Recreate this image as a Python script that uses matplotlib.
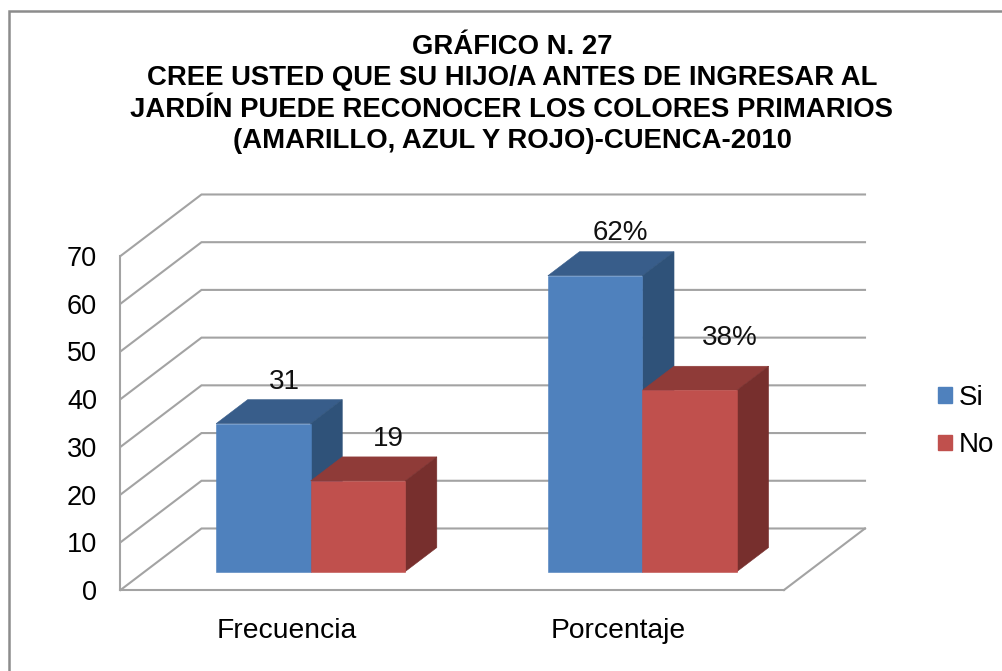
#!/usr/bin/env python3
"""Recreate the 3D-look clustered bar chart (Grafico N. 27)."""

from __future__ import annotations

import matplotlib
matplotlib.use("Agg")
import matplotlib.pyplot as plt
from matplotlib.patches import Patch, Rectangle

CATEGORIES = ["Frecuencia", "Porcentaje"]
SI_VALUES = [31, 62]
NO_VALUES = [19, 38]
SI_LABELS = ["31", "62%"]
NO_LABELS = ["19", "38%"]
Y_TICKS = [0, 10, 20, 30, 40, 50, 60, 70]
TITLE = (
    "GRÁFICO N. 27\n"
    "CREE USTED QUE SU HIJO/A ANTES DE INGRESAR AL\n"
    "JARDÍN PUEDE RECONOCER LOS COLORES PRIMARIOS\n"
    "(AMARILLO, AZUL Y ROJO)-CUENCA-2010"
)

WIDTH, HEIGHT = 1003, 671
GRID = "#a3a3a3"
SI_COLORS = ("#4f81bd", "#385d8a", "#2f5279")  # front, top, side
NO_COLORS = ("#c0504d", "#8f3b38", "#772f2d")

# oblique projection: how far the back wall sits from the front plane
DEPTH_X = 81 / 331.75
DEPTH_V = 61.5 / 4.77
BAR_WIDTH = 0.285
BAR_D0 = 0.30
BAR_D1 = 0.69


def project(x: float, v: float, d: float) -> tuple[float, float]:
    return x + d * DEPTH_X, v + d * DEPTH_V


def draw_bar(ax, x0: float, x1: float, value: float, colors: tuple) -> None:
    front, top, side = colors
    faces = [
        (top, [(x0, value, BAR_D0), (x1, value, BAR_D0), (x1, value, BAR_D1), (x0, value, BAR_D1)]),
        (side, [(x1, 0, BAR_D0), (x1, value, BAR_D0), (x1, value, BAR_D1), (x1, 0, BAR_D1)]),
        (front, [(x0, 0, BAR_D0), (x1, 0, BAR_D0), (x1, value, BAR_D0), (x0, value, BAR_D0)]),
    ]
    for color, corners in faces:
        pts = [project(*c) for c in corners]
        ax.fill([p[0] for p in pts], [p[1] for p in pts], color=color, lw=0.4,
                clip_on=False, zorder=3)


def main() -> int:
    plt.rcParams["font.family"] = ["Liberation Sans", "DejaVu Sans"]
    fig = plt.figure(figsize=(WIDTH / 100, HEIGHT / 100), dpi=100, facecolor="white")
    ax = fig.add_axes([120.5 / WIDTH, (HEIGHT - 590) / HEIGHT, 663.5 / WIDTH, 334 / HEIGHT])
    ax.set_xlim(0, 2)
    ax.set_ylim(0, 70)
    ax.patch.set_visible(False)

    # chart frame: only the left and top edges fall inside the crop
    fig.add_artist(Rectangle((9.5 / WIDTH, -0.02), 1.1, (HEIGHT - 10.5) / HEIGHT + 0.02,
                             transform=fig.transFigure, fill=False, ec="#8c8c8c", lw=1.8))

    # walls and floor
    right = len(CATEGORIES)
    for tick in Y_TICKS:
        pts = [project(0, tick, 0), project(0, tick, 1), project(right, tick, 1)]
        ax.plot([p[0] for p in pts], [p[1] for p in pts], color=GRID, lw=1.5,
                clip_on=False, zorder=1, solid_joinstyle="miter")
    pts = [project(right, 0, 0), project(right, 0, 1)]
    ax.plot([p[0] for p in pts], [p[1] for p in pts], color=GRID, lw=1.5, clip_on=False, zorder=1)

    for side in ["top", "right"]:
        ax.spines[side].set_visible(False)
    for side in ["left", "bottom"]:
        ax.spines[side].set_color(GRID)
        ax.spines[side].set_linewidth(1.5)

    centers = [i + 0.5 for i in range(len(CATEGORIES))]
    ax.set_xticks(centers, CATEGORIES, fontsize=20.3)
    ax.set_yticks(Y_TICKS, [str(t) for t in Y_TICKS], fontsize=19.5)
    ax.tick_params(axis="x", length=0, pad=20)
    ax.tick_params(axis="y", length=0, pad=17)

    for center, si, no in zip(centers, SI_VALUES, NO_VALUES):
        draw_bar(ax, center - BAR_WIDTH, center, si, SI_COLORS)
        draw_bar(ax, center, center + BAR_WIDTH, no, NO_COLORS)

    # data labels float behind the bars, offsets
    si_offsets = [(21, 42), (25, 43)]
    no_offsets = [(30, 42), (40, 52)]
    for center, si, no, si_txt, no_txt, si_off, no_off in zip(
        centers, SI_VALUES, NO_VALUES, SI_LABELS, NO_LABELS, si_offsets, no_offsets
    ):
        for x, v, txt, off in [
            (center - BAR_WIDTH / 2, si, si_txt, si_off),
            (center + BAR_WIDTH / 2, no, no_txt, no_off),
        ]:
            ax.annotate(txt, project(x, v, BAR_D0), xytext=(off[0] * 0.72, off[1] * 0.72),
                        textcoords="offset points", ha="center", va="center",
                        fontsize=20, color="#111111", zorder=4, annotation_clip=False)

    handles = [Patch(color=SI_COLORS[0], label="Si"), Patch(color=NO_COLORS[0], label="No")]
    fig.legend(handles=handles, loc="center left", frameon=False, fontsize=20,
               bbox_to_anchor=(930 / WIDTH, (HEIGHT - 421.5) / HEIGHT),
               handlelength=0.5, handleheight=0.5, handletextpad=0.25,
               labelspacing=0.78, borderpad=0.3, borderaxespad=0)

    fig.text(512 / WIDTH, (HEIGHT - 94) / HEIGHT, TITLE, ha="center", va="center",
             fontsize=19.8, fontweight="bold", linespacing=1.26, color="#000000")

    fig.savefig("out.png", dpi=100)
    plt.close(fig)
    return 0


if __name__ == "__main__":
    raise SystemExit(main())
